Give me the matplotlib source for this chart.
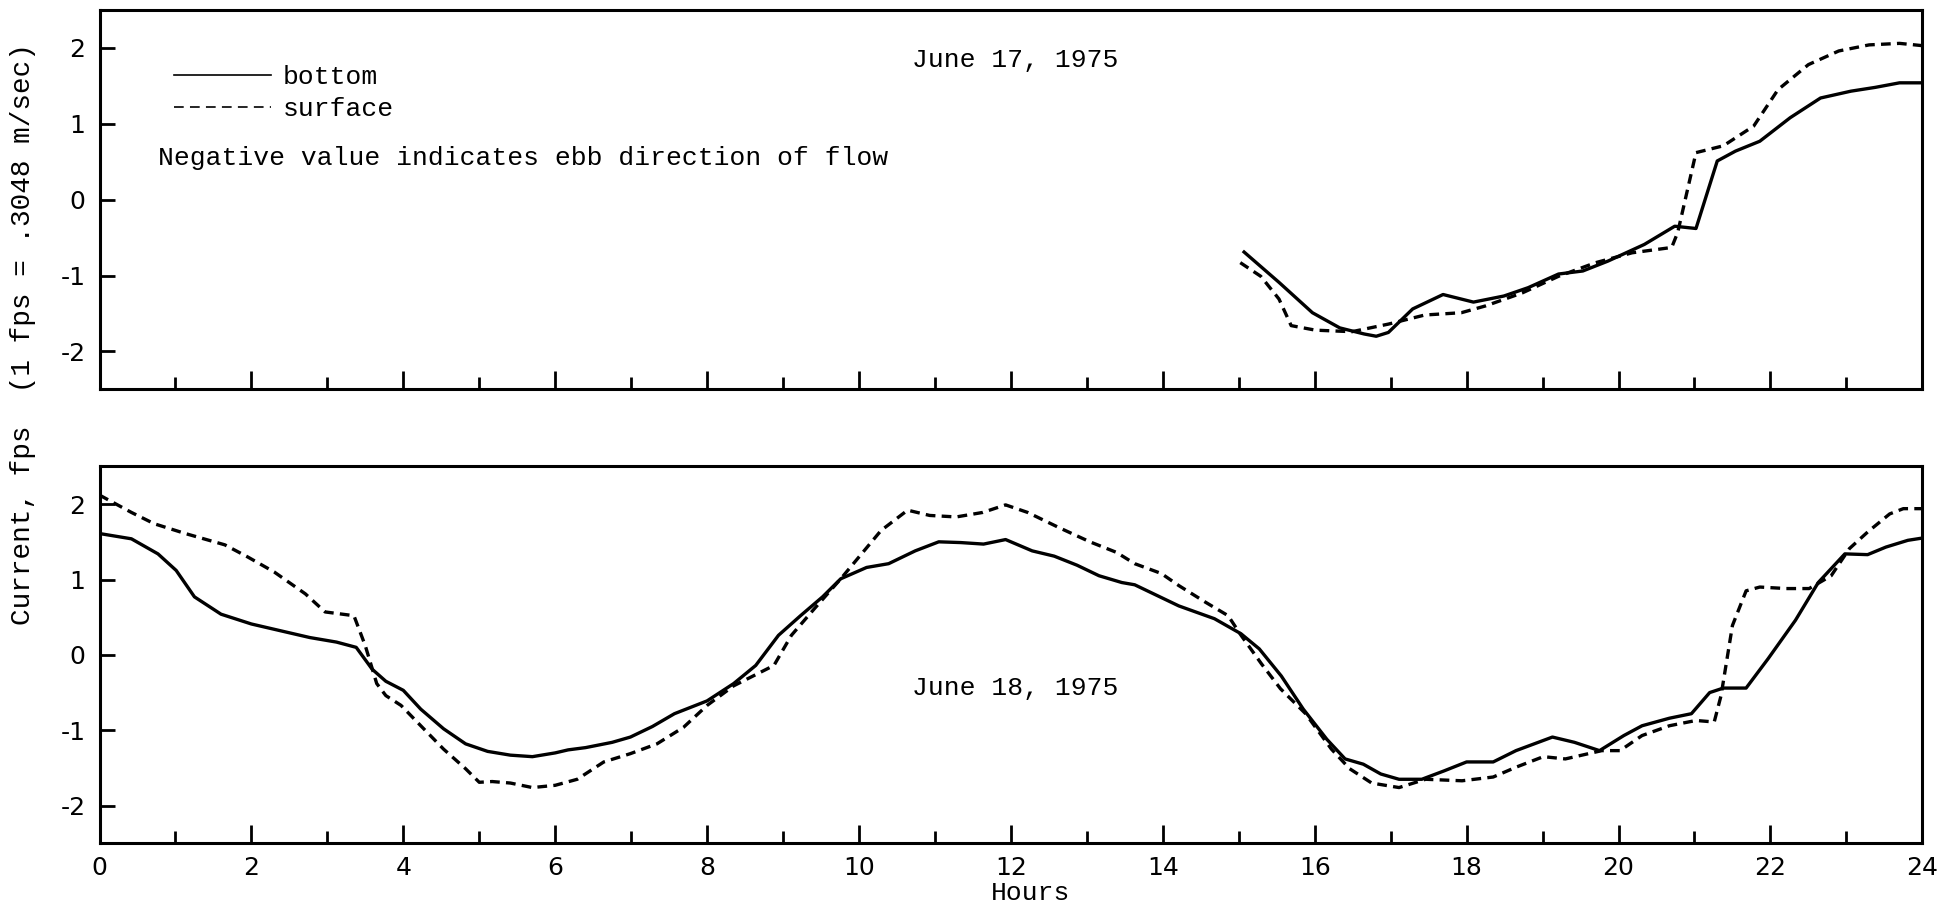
import matplotlib
matplotlib.use("Agg")
import matplotlib.pyplot as plt
from matplotlib.lines import Line2D
from matplotlib.ticker import MultipleLocator

# ---------------- data ----------------
# June 17, 1975 (top panel)
jun17_bottom_hours = [15.07, 15.53, 15.97, 16.33, 16.65, 16.81, 16.97, 17.29, 17.69, 18.09,
                      18.49, 18.81, 19.21, 19.53, 19.86, 20.34, 20.74, 21.02, 21.30, 21.54,
                      21.86, 22.26, 22.66, 23.06, 23.38, 23.70, 24.0]
jun17_bottom_vals = [-0.69, -1.09, -1.49, -1.69, -1.77, -1.80, -1.75, -1.44, -1.25, -1.35,
                     -1.27, -1.16, -0.98, -0.94, -0.81, -0.59, -0.35, -0.38, 0.51, 0.64,
                     0.77, 1.08, 1.34, 1.43, 1.48, 1.54, 1.54]
jun17_surface_hours = [15.02, 15.29, 15.53, 15.69, 16.01, 16.49, 16.97, 17.45, 17.93, 18.25,
                       18.73, 19.21, 19.70, 20.18, 20.70, 20.78, 21.02, 21.38, 21.78, 22.10,
                       22.50, 22.90, 23.30, 23.70, 24.0]
jun17_surface_vals = [-0.83, -1.01, -1.31, -1.66, -1.72, -1.74, -1.64, -1.52, -1.49, -1.40,
                      -1.23, -1.01, -0.83, -0.70, -0.63, -0.43, 0.62, 0.71, 0.97, 1.45,
                      1.78, 1.96, 2.04, 2.06, 2.03]

# June 18, 1975 (bottom panel)
jun18_bottom_hours = [0.0, 0.42, 0.77, 1.01, 1.25, 1.60, 2.00, 2.47, 2.77, 3.12, 3.38, 3.59,
                      3.77, 4.00, 4.23, 4.53, 4.82, 5.11, 5.41, 5.70, 6.00, 6.17, 6.40, 6.75,
                      6.99, 7.28, 7.57, 8.00, 8.35, 8.64, 8.94, 9.23, 9.52, 9.76, 10.10,
                      10.39, 10.74, 11.05, 11.34, 11.64, 11.93, 12.28, 12.57, 12.87, 13.16,
                      13.46, 13.63, 13.92, 14.21, 14.68, 15.03, 15.27, 15.56, 15.85, 16.16,
                      16.40, 16.64, 16.87, 17.11, 17.41, 17.70, 18.00, 18.35, 18.65, 19.13,
                      19.42, 19.75, 20.07, 20.31, 20.67, 20.96, 21.20, 21.38, 21.68, 21.97,
                      22.33, 22.63, 22.98, 23.28, 23.52, 23.81, 24.0]
jun18_bottom_vals = [1.61, 1.54, 1.34, 1.12, 0.77, 0.54, 0.41, 0.30, 0.23, 0.17, 0.10, -0.19,
                     -0.35, -0.47, -0.72, -0.98, -1.18, -1.28, -1.33, -1.35, -1.30, -1.26,
                     -1.23, -1.16, -1.09, -0.95, -0.78, -0.61, -0.38, -0.14, 0.26, 0.52,
                     0.77, 1.01, 1.16, 1.21, 1.38, 1.50, 1.49, 1.47, 1.53, 1.38, 1.31, 1.19,
                     1.05, 0.96, 0.93, 0.79, 0.65, 0.48, 0.28, 0.08, -0.28, -0.72, -1.12,
                     -1.38, -1.45, -1.58, -1.65, -1.65, -1.54, -1.42, -1.42, -1.27, -1.09,
                     -1.16, -1.27, -1.07, -0.94, -0.84, -0.78, -0.50, -0.44, -0.44, -0.05,
                     0.46, 0.96, 1.34, 1.33, 1.43, 1.52, 1.55]
jun18_surface_hours = [0.0, 0.42, 0.72, 1.13, 1.65, 1.95, 2.30, 2.71, 2.97, 3.35, 3.50, 3.65,
                       3.77, 3.97, 4.23, 4.53, 4.82, 5.00, 5.17, 5.41, 5.70, 6.00, 6.29, 6.64,
                       6.99, 7.34, 7.69, 8.00, 8.35, 8.88, 9.11, 9.41, 9.76, 10.05, 10.29,
                       10.64, 10.93, 11.28, 11.63, 11.93, 12.22, 12.63, 13.04, 13.39, 13.63,
                       13.98, 14.21, 14.56, 14.86, 15.03, 15.30, 15.55, 15.88, 16.22, 16.46,
                       16.75, 17.11, 17.46, 17.94, 18.35, 18.65, 19.01, 19.30, 19.78, 20.02,
                       20.31, 20.67, 21.02, 21.26, 21.35, 21.50, 21.68, 21.86, 22.21, 22.51,
                       22.80, 23.04, 23.28, 23.57, 23.75, 24.0]
jun18_surface_vals = [2.12, 1.89, 1.74, 1.61, 1.46, 1.30, 1.10, 0.81, 0.57, 0.52, 0.12, -0.38,
                      -0.54, -0.67, -0.94, -1.25, -1.51, -1.69, -1.68, -1.70, -1.76, -1.73,
                      -1.65, -1.42, -1.31, -1.18, -0.96, -0.67, -0.41, -0.14, 0.26, 0.61,
                      1.01, 1.36, 1.65, 1.92, 1.85, 1.83, 1.89, 1.99, 1.89, 1.69, 1.50, 1.36,
                      1.21, 1.08, 0.92, 0.70, 0.52, 0.26, -0.12, -0.45, -0.78, -1.25, -1.51,
                      -1.70, -1.76, -1.65, -1.67, -1.62, -1.49, -1.35, -1.38, -1.27, -1.27,
                      -1.07, -0.94, -0.87, -0.89, -0.54, 0.39, 0.85, 0.90, 0.88, 0.88, 1.05,
                      1.41, 1.63, 1.87, 1.94, 1.94]

x_ticks = list(range(0, 25, 2))
y_ticks = [-2, -1, 0, 1, 2]

# ---------------- style ----------------
plt.rcParams['lines.scale_dashes'] = False
TEXT_FONT = ['Liberation Mono', 'DejaVu Sans Mono']
NUM_FONT = ['Liberation Sans Narrow', 'DejaVu Sans']
LW = 2.4
DASH = (0, (7, 4.5))
TXT = 19

fig = plt.figure(figsize=(19.51, 9.08), dpi=100)
ax1 = fig.add_axes([0.0510, 0.5712, 0.9343, 0.4178])
ax2 = fig.add_axes([0.0510, 0.0712, 0.9343, 0.4151])

for ax in (ax1, ax2):
    ax.set_xlim(0, 24)
    ax.set_ylim(-2.5, 2.5)
    ax.set_xticks(x_ticks)
    ax.xaxis.set_minor_locator(MultipleLocator(1))
    ax.set_yticks(y_ticks)
    ax.tick_params(axis='x', which='major', direction='in', length=13, width=2, pad=9,
                   labelsize=18)
    ax.tick_params(axis='x', which='minor', direction='in', length=8.5, width=2)
    ax.tick_params(axis='y', which='major', direction='in', length=11, width=2, pad=10,
                   labelsize=18)
    for sp in ax.spines.values():
        sp.set_linewidth(2.2)

ax1.tick_params(axis='x', labelbottom=False)
ax2.set_xticklabels([str(t) for t in x_ticks])
ax1.set_yticklabels([str(t) for t in y_ticks])
ax2.set_yticklabels([str(t) for t in y_ticks])
for ax in (ax1, ax2):
    for lab in ax.get_xticklabels() + ax.get_yticklabels():
        lab.set_fontfamily(NUM_FONT)

ax1.plot(jun17_bottom_hours, jun17_bottom_vals, color='black', lw=LW, solid_joinstyle='round')
ax1.plot(jun17_surface_hours, jun17_surface_vals, color='black', lw=LW, linestyle=DASH)
ax2.plot(jun18_bottom_hours, jun18_bottom_vals, color='black', lw=LW, solid_joinstyle='round')
ax2.plot(jun18_surface_hours, jun18_surface_vals, color='black', lw=LW, linestyle=DASH)

handles = [Line2D([], [], color='black', lw=1.2),
           Line2D([], [], color='black', lw=1.2, linestyle=DASH)]
leg = ax1.legend(handles, ['bottom', 'surface'], loc='center left',
                 bbox_to_anchor=(0.041, 0.78), frameon=False, borderaxespad=0,
                 borderpad=0, handlelength=3.67, handletextpad=0.45, labelspacing=0.3,
                 prop={'family': TEXT_FONT, 'size': TXT})

ax1.text(0.032, 0.61, 'Negative value indicates ebb direction of flow', transform=ax1.transAxes,
         ha='left', va='center', fontsize=TXT, family=TEXT_FONT)
ax1.text(0.4457, 0.869, 'June 17, 1975', transform=ax1.transAxes, ha='left', va='center',
         fontsize=TXT, family=TEXT_FONT)
ax2.text(0.4457, 0.4125, 'June 18, 1975', transform=ax2.transAxes, ha='left', va='center',
         fontsize=TXT, family=TEXT_FONT)

fig.text(0.528, 0.016, 'Hours', ha='center', va='center', fontsize=TXT, family=TEXT_FONT)
fig.text(0.012, 0.632, 'Current, fps  (1 fps = .3048 m/sec)', rotation=90, ha='center',
         va='center', fontsize=20, family=TEXT_FONT)

fig.savefig('out.png', dpi=100, facecolor='white')
